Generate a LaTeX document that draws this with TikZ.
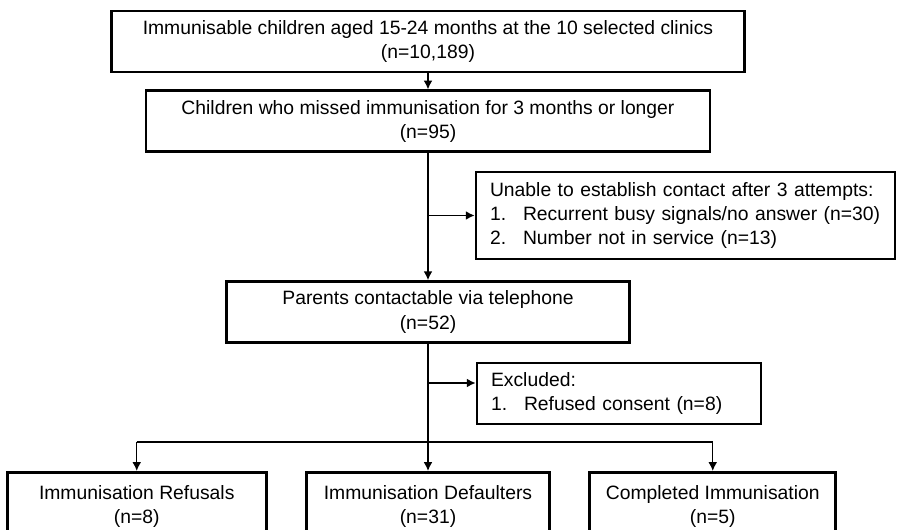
\documentclass[tikz,border=0pt]{standalone}
\usepackage{fontspec}
\setmainfont{Liberation Sans}
\usetikzlibrary{positioning}
\usetikzlibrary{arrows.meta}
\tikzset{box/.style={draw, line width=1.6pt, minimum height=1.22cm,
      align=center, inner sep=2pt,
      font=\fontsize{11}{13.8}\selectfont},
      sidebox/.style={box, align=left, inner xsep=0.28cm},
      endbox/.style={box, minimum height=1.36cm},
      every edge/.style={draw, ->, >={Latex[length=5pt,width=5pt]}, line width=0.8pt}}
\newcommand{\numitem}[2]{\makebox[0.66cm][l]{#1}#2}

\begin{document}
\begin{tikzpicture}[x=0.02cm, y=-0.02cm]
          \useasboundingbox (0,0) rectangle (897,530);
          \clip (0,0) rectangle (897,530);

          \node[box, minimum width=12.66cm] (top) at (428,41.5)
               {Immunisable children aged 15-24 months at the 10 selected clinics\\(n=10,189)};
          \node[box, minimum width=11.28cm, below=0.32cm of top] (missed)
               {Children who missed immunisation for 3 months or longer\\(n=95)};
          \node[box, minimum width=8.06cm, below=2.54cm of missed] (parents)
               {Parents contactable via telephone\\(n=52)};
          \node[sidebox, text width=7.82cm, minimum height=1.74cm] (nocontact) at (685.5,215.5)
               {Unable to establish contact after 3 attempts:\\
                \numitem{1.}{Recurrent busy signals/no answer (n=30)}\\
                \numitem{2.}{Number not in service (n=13)}};
          \node[sidebox, text width=5.12cm] (excluded) at (619,393.5)
               {Excluded:\\\numitem{1.}{Refused consent (n=8)}};

          \node[endbox, minimum width=4.86cm, below=2.54cm of parents] (defaulters)
               {Immunisation Defaulters\\(n=31)};
          \node[endbox, minimum width=5.18cm, left=0.75cm of defaulters] (refusals)
               {Immunisation Refusals\\(n=8)};
          \node[endbox, minimum width=4.92cm, right=0.75cm of defaulters] (completed)
               {Completed Immunisation\\(n=5)};

          \coordinate (exin) at ([yshift=0.21cm]excluded.west);
          \coordinate (split) at (parents.south |- 0,442);

          \draw (top.south -| missed.north) edge (missed.north);
          \draw (missed) edge (parents);
          \draw (missed.south |- nocontact.west) edge (nocontact.west);
          \draw (parents.south |- exin) edge (exin);
          \draw (parents.south) edge (defaulters.north);
          \draw[line width=0.8pt] (split -| refusals.north) -- (split -| completed.north);
          \draw (split -| refusals.north) edge (refusals.north);
          \draw (split -| completed.north) edge (completed.north);
       \end{tikzpicture}
\end{document}
